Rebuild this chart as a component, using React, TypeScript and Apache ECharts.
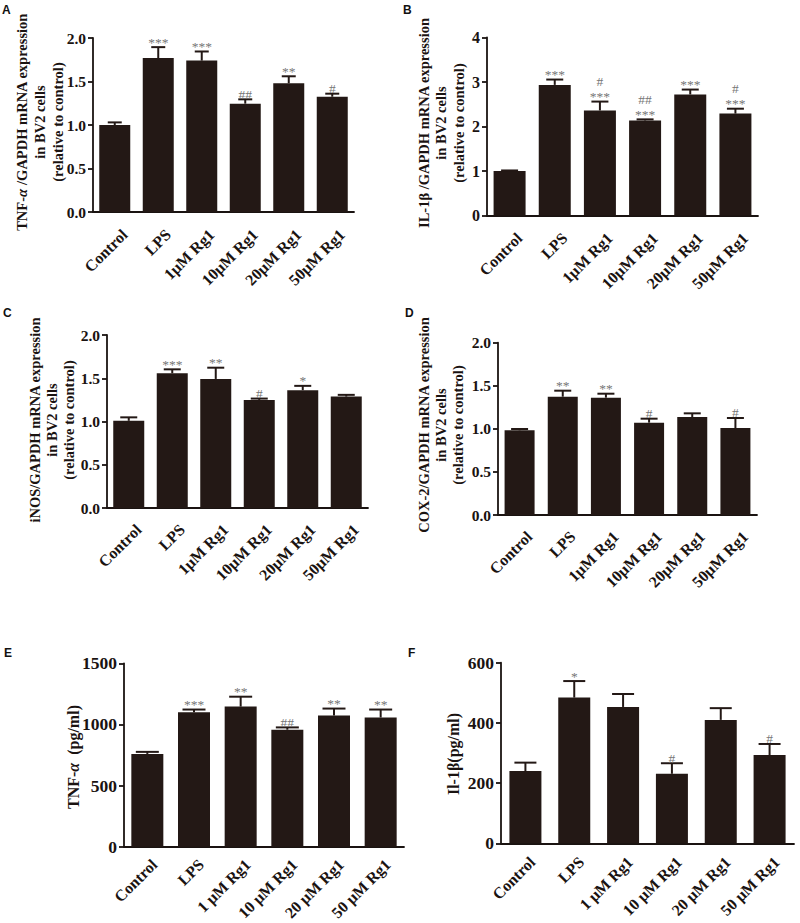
import React, { useEffect, useRef } from "react";
import * as echarts from "echarts";

// ---------- data ----------
const categoriesRT = ["Control", "LPS", "1μM Rg1", "10μM Rg1", "20μM Rg1", "50μM Rg1"];
const categoriesELISA = ["Control", "LPS", "1 μM Rg1", "10 μM Rg1", "20 μM Rg1", "50 μM Rg1"];

const meanA = [1.0, 1.77, 1.74, 1.245, 1.48, 1.325];
const semA = [0.03, 0.125, 0.105, 0.05, 0.08, 0.035];
const sigA = ["", "***", "***", "##", "**", "#"];

const meanB = [1.0, 2.935, 2.36, 2.135, 2.72, 2.29];
const semB = [0.012, 0.12, 0.2, 0.025, 0.11, 0.11];
const sigB = ["", "***", "#\n***", "##\n***", "***", "#\n***"];

const meanC = [1.008, 1.558, 1.492, 1.25, 1.362, 1.288];
const semC = [0.04, 0.045, 0.13, 0.015, 0.05, 0.02];
const sigC = ["", "***", "**", "#", "*", ""];

const meanD = [0.983, 1.373, 1.362, 1.072, 1.137, 1.01];
const semD = [0.015, 0.07, 0.046, 0.046, 0.043, 0.116];
const sigD = ["", "**", "**", "#", "", "#"];

const meanE = [759, 1100, 1146, 957, 1073, 1057];
const semE = [17, 22, 81, 19, 57, 65];
const sigE = ["", "***", "**", "##", "**", "**"];

const meanF = [240, 484, 453, 231, 410, 293];
const semF = [28, 55, 43, 35, 39, 37];
const sigF = ["", "*", "", "#", "", "#"];

// ---------- styling ----------
const SERIF = "'Liberation Serif', 'Times New Roman', serif";
const SANS = "'Liberation Sans', Arial, sans-serif";
const INK = "#1a1311";
const BAR = "#231815";
const SIG = "#767676";

type Panel = {
  categories: string[];
  mean: number[];
  sem: number[];
  sig: string[];
  max: number;
  interval: number;
  decimals: number;
  grid: { left: number; top: number; width: number; height: number };
  barWidth: number;
  capWidth: number;
  tickFont: number;
  catFont: number;
  catLineHeight: number;
  labelMargin: number;
};

const panels: Panel[] = [
  { categories: categoriesRT, mean: meanA, sem: semA, sig: sigA, max: 2, interval: 0.5, decimals: 1,
    grid: { left: 93, top: 38, width: 261, height: 174 }, barWidth: 31, capWidth: 14, tickFont: 15.5, catFont: 16, catLineHeight: 28, labelMargin: 10 },
  { categories: categoriesRT, mean: meanB, sem: semB, sig: sigB, max: 4, interval: 1, decimals: 0,
    grid: { left: 487, top: 37.5, width: 271, height: 178 }, barWidth: 32, capWidth: 17, tickFont: 16, catFont: 16, catLineHeight: 28, labelMargin: 10 },
  { categories: categoriesRT, mean: meanC, sem: semC, sig: sigC, max: 2, interval: 0.5, decimals: 1,
    grid: { left: 107, top: 335, width: 261, height: 173 }, barWidth: 31, capWidth: 17, tickFont: 15.5, catFont: 16, catLineHeight: 28, labelMargin: 9 },
  { categories: categoriesRT, mean: meanD, sem: semD, sig: sigD, max: 2, interval: 0.5, decimals: 1,
    grid: { left: 498, top: 342.7, width: 259, height: 172.3 }, barWidth: 30, capWidth: 17, tickFont: 15.5, catFont: 16, catLineHeight: 28, labelMargin: 9 },
  { categories: categoriesELISA, mean: meanE, sem: semE, sig: sigE, max: 1500, interval: 500, decimals: 0,
    grid: { left: 124, top: 663.3, width: 280, height: 183.5 }, barWidth: 32, capWidth: 23, tickFont: 17.5, catFont: 16, catLineHeight: 20, labelMargin: 8 },
  { categories: categoriesELISA, mean: meanF, sem: semF, sig: sigF, max: 600, interval: 200, decimals: 0,
    grid: { left: 501, top: 662.7, width: 293, height: 180.6 }, barWidth: 32, capWidth: 22, tickFont: 17.5, catFont: 16, catLineHeight: 20, labelMargin: 9 },
];

const letters = [
  { t: "A", x: 2, y: 4 },
  { t: "B", x: 403, y: 4 },
  { t: "C", x: 3, y: 307 },
  { t: "D", x: 405, y: 307 },
  { t: "E", x: 4, y: 647 },
  { t: "F", x: 408, y: 647 },
];

const yNameRich = {
  i: { fontStyle: "italic", fontWeight: "bold", fontFamily: SERIF, fontSize: 14.5, fill: INK, lineHeight: 18 },
  ib: { fontStyle: "italic", fontWeight: "bold", fontFamily: SERIF, fontSize: 16, fill: INK, lineHeight: 18 },
};

const yNames = [
  { x: 40, y: 122, text: "TNF-{i|α} /GAPDH mRNA expression\nin BV2 cells\n(relative to control)", size: 14.5, lh: 18 },
  { x: 441, y: 123, text: "IL-1β /GAPDH mRNA expression\nin BV2 cells\n(relative to control)", size: 14.5, lh: 17.5 },
  { x: 52, y: 420, text: "iNOS/GAPDH mRNA expression\nin BV2 cells\n(relative to control)", size: 14.5, lh: 17 },
  { x: 441, y: 425, text: "COX-2/GAPDH mRNA expression\nin BV2 cells\n(relative to control)", size: 14.5, lh: 17 },
  { x: 73.5, y: 757, text: "TNF-{ib|α}  (pg/ml)", size: 16, lh: 18 },
  { x: 453, y: 754, text: "Il-1β(pg/ml)", size: 16, lh: 18 },
];

function buildOption() {
  const grid: any[] = [];
  const xAxis: any[] = [];
  const yAxis: any[] = [];
  const series: any[] = [];

  panels.forEach((p, idx) => {
    grid.push({ ...p.grid, containLabel: false, outerBoundsMode: "none" });
    xAxis.push({
      type: "category",
      gridIndex: idx,
      data: p.categories,
      axisLine: { lineStyle: { color: INK, width: 1.8 } },
      axisTick: { alignWithLabel: true, length: 5, lineStyle: { color: INK, width: 1.8 } },
      axisLabel: {
        rotate: 45,
        interval: 0,
        margin: p.labelMargin,
        color: INK,
        fontFamily: SERIF,
        fontWeight: "bold",
        fontSize: p.catFont,
        verticalAlign: "top",
        lineHeight: p.catLineHeight,
      },
    });
    yAxis.push({
      type: "value",
      gridIndex: idx,
      min: 0,
      max: p.max,
      interval: p.interval,
      splitLine: { show: false },
      axisLine: { show: true, lineStyle: { color: INK, width: 1.8 } },
      axisTick: { show: true, length: 5, lineStyle: { color: INK, width: 1.8 } },
      axisLabel: {
        margin: 7,
        color: INK,
        fontFamily: SERIF,
        fontWeight: "bold",
        fontSize: p.tickFont,
        formatter: (v: number) => v.toFixed(p.decimals),
      },
    });
    series.push({
      type: "bar",
      xAxisIndex: idx,
      yAxisIndex: idx,
      data: p.mean,
      barWidth: p.barWidth,
      itemStyle: { color: BAR },
      z: 2,
    });
    series.push({
      type: "custom",
      xAxisIndex: idx,
      yAxisIndex: idx,
      clip: false,
      z: 5,
      data: p.mean.map((m, j) => [j, m, m + p.sem[j]]),
      renderItem: (params: any, api: any) => {
        const j = params.dataIndex;
        const x = api.value(0);
        const p1 = api.coord([x, api.value(1)]);
        const p2 = api.coord([x, api.value(2)]);
        const h = p.capWidth / 2;
        const st = { stroke: BAR, lineWidth: 2 };
        const children: any[] = [
          { type: "line", shape: { x1: p1[0], y1: p1[1], x2: p2[0], y2: p2[1] }, style: st },
          { type: "line", shape: { x1: p2[0] - h, y1: p2[1], x2: p2[0] + h, y2: p2[1] }, style: st },
        ];
        const lines = p.sig[j] ? p.sig[j].split("\n").reverse() : [];
        lines.forEach((s, k) => {
          children.push({
            type: "text",
            style: {
              text: s,
              x: p2[0],
              y: p2[1] + 2 - k * 15,
              textAlign: "center",
              textVerticalAlign: "bottom",
              fill: SIG,
              fontFamily: SERIF,
              fontSize: 13.5,
            },
          });
        });
        return { type: "group", children };
      },
    });
  });

  const graphic: any[] = [];
  letters.forEach((l) => {
    graphic.push({
      type: "text",
      x: l.x,
      y: l.y,
      style: { text: l.t, fill: "#111", fontFamily: SANS, fontWeight: "bold", fontSize: 12, textVerticalAlign: "top" },
    });
  });
  yNames.forEach((n) => {
    graphic.push({
      type: "text",
      x: n.x,
      y: n.y,
      rotation: Math.PI / 2,
      style: {
        text: n.text,
        rich: yNameRich,
        fill: INK,
        fontFamily: SERIF,
        fontWeight: "bold",
        fontSize: n.size,
        lineHeight: n.lh,
        textAlign: "center",
        textVerticalAlign: "middle",
      },
    });
  });

  return {
    animation: false,
    backgroundColor: "#ffffff",
    grid,
    xAxis,
    yAxis,
    series,
    graphic,
  };
}

export default function App() {
  const ref = useRef<HTMLDivElement>(null);
  useEffect(() => {
    if (!ref.current) return;
    const chart = echarts.init(ref.current, undefined, { renderer: "svg" });
    chart.setOption(buildOption());
    return () => chart.dispose();
  }, []);
  return (
    <div
      ref={ref}
      style={{ position: "fixed", left: 0, top: 0, width: 800, height: 923, background: "#fff" }}
    />
  );
}
